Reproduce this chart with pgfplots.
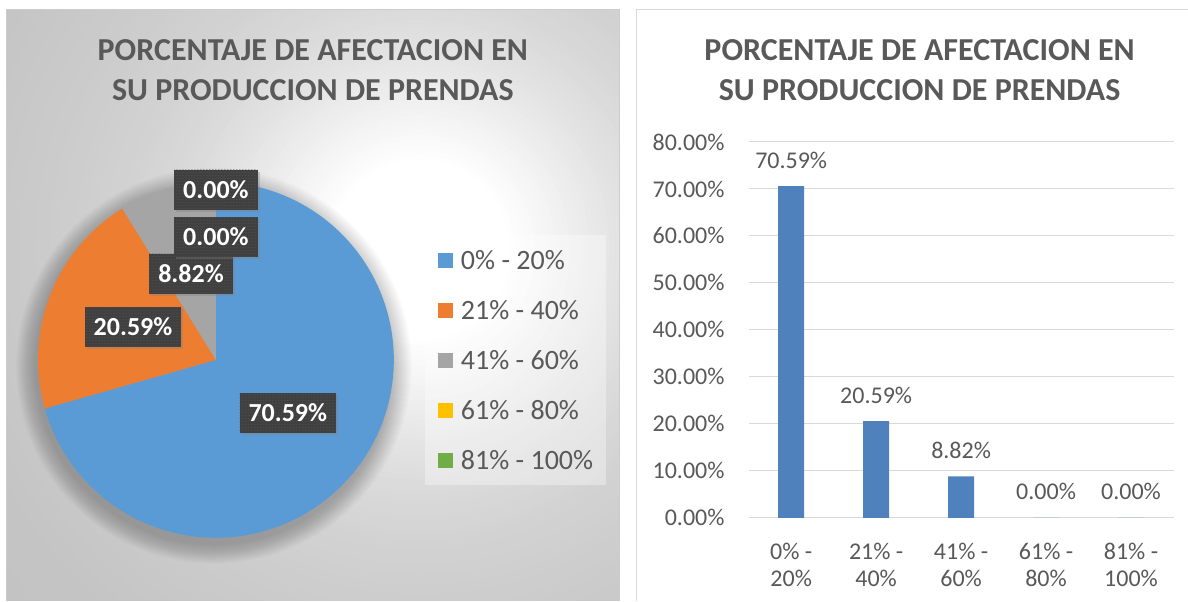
\documentclass[border=0pt]{standalone}
\usepackage{pgfplots}
\pgfplotsset{compat=1.18}
\usepackage{pgfplotstable}
\usepackage{fontspec}
\setmainfont{Carlito}
\usetikzlibrary{shadows,patterns}
\definecolor{pieblue}{HTML}{5B9BD5}
\definecolor{pieorange}{HTML}{ED7D31}
\definecolor{piegray}{HTML}{A5A5A5}
\definecolor{pieyellow}{HTML}{FFC000}
\definecolor{piegreen}{HTML}{70AD47}
\definecolor{barblue}{HTML}{4F81BD}
\definecolor{txt}{HTML}{595959}
\definecolor{lblbox}{HTML}{404040}
\definecolor{lbldot}{HTML}{585858}
\definecolor{gridc}{HTML}{D9D9D9}
\tikzset{pielbl/.style={fill=lblbox, text=white, font=\bfseries\fontsize{26}{26}\selectfont,
    inner xsep=9pt, inner ysep=0pt, minimum height=40pt,
    drop shadow={shadow xshift=2pt, shadow yshift=-2pt, opacity=0.35},
    postaction={pattern=dots, pattern color=lbldot}}}
\pgfmathdeclarefunction{clipu}{1}{\pgfmathparse{min(1,max(0,#1))}}

% data
\pgfplotstableread{
idx val
0 70.59
1 20.59
2 8.82
3 0.00
4 0.00
}\bardata

\begin{document}
\begin{tikzpicture}[x=1pt,y=1pt]
\path[fill=white] (0,0) rectangle (1188,-601);
% left panel background (radial gradient made of rings)
\begin{scope}
\clip (7,-10) rectangle (620,-601);
\foreach \r in {600,595,...,5} {
  \pgfmathsetmacro\g{1-0.04*clipu((\r-90)/40)-0.05*clipu((\r-130)/50)-0.05*clipu((\r-180)/55)-0.035*clipu((\r-235)/60)-0.025*clipu((\r-295)/70)-0.03*clipu((\r-365)/115)-0.01*clipu((\r-480)/120)}
  \definecolor{ringc}{gray}{\g}
  \fill[ringc] (420,-250) circle[radius=\r];
}
% soft shadow under the pie
\foreach \k in {1,...,20} {
  \fill[black, fill opacity=0.011] (214,-366) circle[radius={178+\k}];
}
\end{scope}
\draw[gray!40, line width=1pt] (7,-601) -- (7,-10) -- (620,-10) -- (620,-601);
% right panel border
\draw[gridc, line width=1pt] (637,-601) -- (637,-10) -- (1188,-10);
% titles
\begin{scope}[every node/.style={font=\bfseries\fontsize{32}{32}\selectfont, text=txt, anchor=base, inner sep=0pt}]
\node at (313,-61) {PORCENTAJE DE AFECTACION EN};
\node at (313,-101) {SU PRODUCCION DE PRENDAS};
\node at (920,-61) {PORCENTAJE DE AFECTACION EN};
\node at (920,-101) {SU PRODUCCION DE PRENDAS};
\end{scope}

% ---------------- pie ----------------
\begin{axis}[at={(38pt,-538pt)}, anchor=south west, scale only axis,
  width=356pt, height=356pt, xmin=-1, xmax=1, ymin=-1, ymax=1,
  hide axis, clip=false,
  legend image code/.code={\path[#1, fill opacity=1, draw=none] (0pt,-7.5pt) rectangle (15pt,7.5pt);},
  legend cell align=left,
  legend style={at={(axis cs:1.174,0.702)}, anchor=north west, draw=none,
    fill=white, fill opacity=0.35, text opacity=1,
    inner xsep=13pt, inner ysep=0pt, row sep=0pt, column sep=8pt,
    font=\fontsize{28}{28}\selectfont, text=txt,
    nodes={inner sep=0pt, minimum height=50pt, text depth=0pt}},
]
% slices: start at 12 o'clock, clockwise; angles from the percentages
\addplot[draw=none, fill=pieblue, domain={90-3.6*70.59}:90, samples=150] ({cos(x)},{sin(x)}) -- (axis cs:0,0) -- cycle;
\addplot[draw=none, fill=pieorange, domain={90-3.6*(70.59+20.59)}:{90-3.6*70.59}, samples=60] ({cos(x)},{sin(x)}) -- (axis cs:0,0) -- cycle;
\addplot[draw=none, fill=piegray, domain={90-3.6*(70.59+20.59+8.82)}:{90-3.6*(70.59+20.59)}, samples=30] ({cos(x)},{sin(x)}) -- (axis cs:0,0) -- cycle;
\addlegendimage{draw=none, fill=pieyellow}
\addlegendimage{draw=none, fill=piegreen}
\legend{0\% - 20\%, 21\% - 40\%, 41\% - 60\%, 61\% - 80\%, 81\% - 100\%}
% data labels
\node[pielbl] at (axis cs:0.404,-0.298) {70.59\%};
\node[pielbl] at (axis cs:-0.466,0.185) {20.59\%};
\node[pielbl] at (axis cs:-0.140,0.483) {8.82\%};
\node[pielbl] at (axis cs:0,0.691) {0.00\%};
\node[pielbl] at (axis cs:0,0.955) {0.00\%};
\end{axis}

% ---------------- bars ----------------
\begin{axis}[at={(749pt,-518pt)}, anchor=south west, scale only axis,
  width=425pt, height=376pt,
  xmin=-0.5, xmax=4.5, ymin=0, ymax=80,
  ytick={0,10,...,80}, xtick={0,1,2,3,4},
  xticklabels={{0\% -\\20\%},{21\% -\\40\%},{41\% -\\60\%},{61\% -\\80\%},{81\% -\\100\%}},
  ymajorgrids, grid style={gridc, line width=1pt},
  axis line style={draw=none}, major tick length=0pt,
  /pgf/number format/assume math mode=true,
  yticklabel={\pgfmathprintnumber[fixed,fixed zerofill,precision=2]{\tick}\%},
  tick label style={font=\fontsize{24}{27}\selectfont, text=txt},
  yticklabel style={anchor=east, inner sep=0pt, xshift=-24pt},
  xticklabel style={align=center, anchor=north, inner sep=0pt, yshift=-25pt},
]
\addplot[ybar, bar width=26pt, fill=barblue, draw=none,
  nodes near coords={\pgfmathprintnumber[fixed,fixed zerofill,precision=2]{\pgfplotspointmeta}\%},
  nodes near coords style={font=\fontsize{24}{24}\selectfont, text=txt, anchor=base, inner sep=0pt, yshift=18pt}]
  table[x=idx, y=val] {\bardata};
\end{axis}
\end{tikzpicture}
\end{document}
